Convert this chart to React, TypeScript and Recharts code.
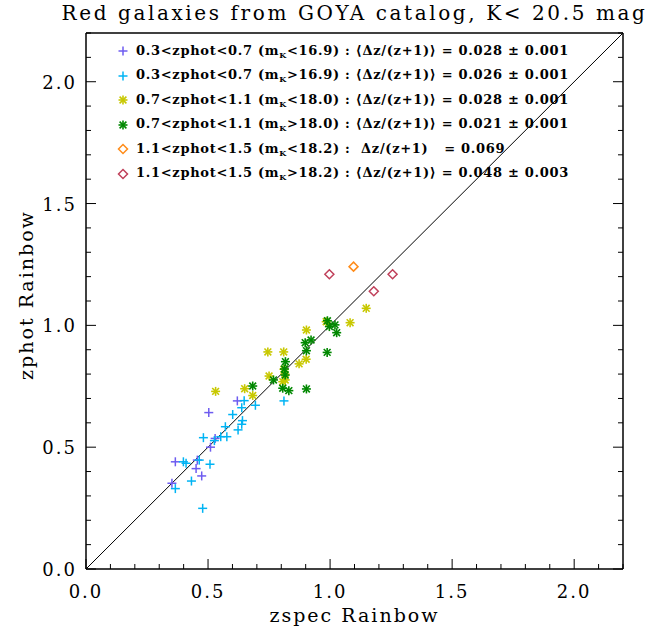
import {
  ScatterChart,
  Scatter,
  XAxis,
  YAxis,
  ReferenceLine,
  Legend,
} from "recharts";

// tick values (0.1 steps, labels only on the 0.5 ones)
const ticks = [0, 0.1, 0.2, 0.3, 0.4, 0.5, 0.6, 0.7, 0.8, 0.9, 1, 1.1, 1.2, 1.3, 1.4, 1.5, 1.6, 1.7, 1.8, 1.9, 2, 2.1, 2.2];
const majorTicks = [0, 0.5, 1, 1.5, 2];

// 0.3<zphot<0.7, mK<16.9
const brightLowX = [0.620, 0.503, 0.529, 0.510, 0.366, 0.451, 0.456, 0.474, 0.352];
const brightLowY = [0.690, 0.642, 0.536, 0.500, 0.440, 0.412, 0.447, 0.382, 0.352];
// 0.3<zphot<0.7, mK>16.9
const faintLowX = [0.648, 0.638, 0.694, 0.601, 0.641, 0.638, 0.623, 0.571, 0.577, 0.552, 0.481, 0.526, 0.399, 0.410, 0.464, 0.508, 0.432, 0.366, 0.478, 0.811];
const faintLowY = [0.691, 0.662, 0.672, 0.634, 0.609, 0.594, 0.571, 0.584, 0.543, 0.543, 0.539, 0.527, 0.440, 0.434, 0.447, 0.430, 0.361, 0.330, 0.249, 0.690];
// 0.7<zphot<1.1, mK<18.0
const brightMidX = [0.531, 0.650, 0.683, 0.750, 0.806, 0.811, 0.816, 0.815, 0.745, 0.810, 0.873, 0.902, 0.903, 0.984, 1.082, 1.148];
const brightMidY = [0.729, 0.740, 0.712, 0.792, 0.769, 0.820, 0.776, 0.800, 0.891, 0.891, 0.842, 0.861, 0.981, 1.015, 1.011, 1.070];
// 0.7<zphot<1.1, mK>18.0
const faintMidX = [0.989, 1.020, 1.027, 0.997, 0.922, 0.898, 0.903, 0.988, 0.817, 0.813, 0.816, 0.768, 0.683, 0.806, 0.831, 0.903];
const faintMidY = [1.019, 1.002, 0.970, 0.995, 0.940, 0.929, 0.896, 0.889, 0.851, 0.821, 0.796, 0.776, 0.751, 0.742, 0.732, 0.739];
// 1.1<zphot<1.5
const brightHighX = [1.096];
const brightHighY = [1.241];
const faintHighX = [0.997, 1.256, 1.179];
const faintHighY = [1.210, 1.210, 1.140];

const toPts = (xs: number[], ys: number[]) => xs.map((x, i) => ({ x, y: ys[i] }));

const PURPLE = "#6e5cf0";
const CYAN = "#00b4f4";
const YELLOW = "#c8c800";
const GREEN = "#008800";
const ORANGE = "#ff8c1a";
const RED = "#c0405a";

const SERIF = "'DejaVu Serif', serif";

const Plus = ({ cx, cy, color }: any) => (
  <g stroke={color} strokeWidth={1.5}>
    <line x1={cx - 4.5} y1={cy} x2={cx + 4.5} y2={cy} />
    <line x1={cx} y1={cy - 4.5} x2={cx} y2={cy + 4.5} />
  </g>
);

const Star = ({ cx, cy, color }: any) => (
  <g stroke={color} strokeWidth={1.6}>
    <line x1={cx - 4.5} y1={cy} x2={cx + 4.5} y2={cy} />
    <line x1={cx} y1={cy - 4.5} x2={cx} y2={cy + 4.5} />
    <line x1={cx - 3.4} y1={cy - 3.4} x2={cx + 3.4} y2={cy + 3.4} />
    <line x1={cx - 3.4} y1={cy + 3.4} x2={cx + 3.4} y2={cy - 3.4} />
  </g>
);

const Diamond = ({ cx, cy, color }: any) => (
  <path
    d={`M${cx} ${cy - 4.5}L${cx + 4.5} ${cy}L${cx} ${cy + 4.5}L${cx - 4.5} ${cy}Z`}
    stroke={color}
    strokeWidth={1.5}
    fill="none"
  />
);

const isMajor = (v: number) => majorTicks.some((m) => Math.abs(m - v) < 1e-6);

const BottomTick = (p: any) => {
  const major = isMajor(p.payload.value);
  return (
    <g>
      <line x1={p.x} y1={p.y} x2={p.x} y2={p.y - (major ? 10 : 5)} stroke="#000" />
      {major && (
        <text x={p.x} y={p.y + 29} textAnchor="middle" fontFamily={SERIF} fontSize={18} letterSpacing={2} fill="#000">
          {p.payload.value.toFixed(1)}
        </text>
      )}
    </g>
  );
};

const TopTick = (p: any) => {
  const major = isMajor(p.payload.value);
  return <line x1={p.x} y1={p.y} x2={p.x} y2={p.y + (major ? 10 : 5)} stroke="#000" />;
};

const LeftTick = (p: any) => {
  const major = isMajor(p.payload.value);
  return (
    <g>
      <line x1={p.x} y1={p.y} x2={p.x + (major ? 10 : 5)} y2={p.y} stroke="#000" />
      {major && (
        <text x={p.x - 9} y={p.y + 7} textAnchor="end" fontFamily={SERIF} fontSize={18} letterSpacing={2} fill="#000">
          {p.payload.value.toFixed(1)}
        </text>
      )}
    </g>
  );
};

const RightTick = (p: any) => {
  const major = isMajor(p.payload.value);
  return <line x1={p.x} y1={p.y} x2={p.x - (major ? 10 : 5)} y2={p.y} stroke="#000" />;
};

const legendRows = [
  { sym: Plus, color: PURPLE, range: "0.3<zphot<0.7", mag: "<16.9", stat: " : ⟨Δz/(z+1)⟩ = 0.028 ± 0.001" },
  { sym: Plus, color: CYAN, range: "0.3<zphot<0.7", mag: ">16.9", stat: " : ⟨Δz/(z+1)⟩ = 0.026 ± 0.001" },
  { sym: Star, color: YELLOW, range: "0.7<zphot<1.1", mag: "<18.0", stat: " : ⟨Δz/(z+1)⟩ = 0.028 ± 0.001" },
  { sym: Star, color: GREEN, range: "0.7<zphot<1.1", mag: ">18.0", stat: " : ⟨Δz/(z+1)⟩ = 0.021 ± 0.001" },
  { sym: Diamond, color: ORANGE, range: "1.1<zphot<1.5", mag: "<18.2", stat: " :  Δz/(z+1)   = 0.069" },
  { sym: Diamond, color: RED, range: "1.1<zphot<1.5", mag: ">18.2", stat: " : ⟨Δz/(z+1)⟩ = 0.048 ± 0.003" },
];

const LegendBox = () => (
  <div style={{ fontFamily: SERIF, fontWeight: "bold", fontSize: 13, letterSpacing: 0.7 }}>
    {legendRows.map((r, i) => {
      const S = r.sym;
      return (
        <div key={i} style={{ height: 24.5, display: "flex", alignItems: "center", whiteSpace: "pre" }}>
          <svg width={14} height={14} style={{ marginRight: 6 }}>
            <S cx={7} cy={7} color={r.color} />
          </svg>
          <span>
            {r.range} (m<span style={{ fontSize: 8, verticalAlign: -3 }}>K</span>
            {r.mag}){r.stat}
          </span>
        </div>
      );
    })}
  </div>
);

export default function App() {
  return (
    <div style={{ position: "absolute", left: 0, top: 0, width: 649, height: 631, background: "#fff" }}>
      <div
        style={{
          position: "absolute", left: 0, width: 709, top: 1, textAlign: "center",
          fontFamily: SERIF, fontSize: 20, letterSpacing: 2.6, whiteSpace: "pre",
        }}
      >
        Red galaxies from GOYA catalog, K&lt; 20.5 mag
      </div>
      <div
        style={{
          position: "absolute", left: 0, width: 709, top: 604, textAlign: "center",
          fontFamily: SERIF, fontSize: 19, letterSpacing: 2, whiteSpace: "pre",
        }}
      >
        zspec Rainbow
      </div>
      <div
        style={{
          position: "absolute", left: 26, top: 296, width: 0, height: 0,
        }}
      >
        <div
          style={{
            position: "absolute", left: -100, top: -12, width: 200, textAlign: "center",
            transform: "rotate(-90deg)", fontFamily: SERIF, fontSize: 19, letterSpacing: 2, whiteSpace: "pre",
          }}
        >
          zphot Rainbow
        </div>
      </div>
      <ScatterChart width={649} height={631} margin={{ top: 32, right: 25, bottom: 61, left: 85 }}>
        <XAxis
          type="number"
          dataKey="x"
          domain={[0, 2.2]}
          ticks={ticks}
          interval={0}
          height={1}
          tickSize={0}
          tickMargin={0}
          tickLine={false}
          tick={<BottomTick />}
          axisLine={{ stroke: "#000", strokeWidth: 1.5 }}
          allowDataOverflow
        />
        <XAxis
          xAxisId="top"
          orientation="top"
          type="number"
          domain={[0, 2.2]}
          ticks={ticks}
          interval={0}
          height={1}
          tickSize={0}
          tickMargin={0}
          tickLine={false}
          tick={<TopTick />}
          axisLine={{ stroke: "#000", strokeWidth: 1.5 }}
          allowDataOverflow
        />
        <YAxis
          type="number"
          dataKey="y"
          domain={[0, 2.2]}
          ticks={ticks}
          interval={0}
          width={1}
          tickSize={0}
          tickMargin={0}
          tickLine={false}
          tick={<LeftTick />}
          axisLine={{ stroke: "#000", strokeWidth: 1.5 }}
          allowDataOverflow
        />
        <YAxis
          yAxisId="right"
          orientation="right"
          type="number"
          domain={[0, 2.2]}
          ticks={ticks}
          interval={0}
          width={1}
          tickSize={0}
          tickMargin={0}
          tickLine={false}
          tick={<RightTick />}
          axisLine={{ stroke: "#000", strokeWidth: 1.5 }}
          allowDataOverflow
        />
        <ReferenceLine
          segment={[{ x: 0, y: 0 }, { x: 2.2, y: 2.2 }]}
          stroke="#000"
          strokeWidth={1}
          ifOverflow="visible"
        />
        <Scatter data={toPts(brightLowX, brightLowY)} isAnimationActive={false} shape={(p: any) => <Plus cx={p.cx} cy={p.cy} color={PURPLE} />} />
        <Scatter data={toPts(faintLowX, faintLowY)} isAnimationActive={false} shape={(p: any) => <Plus cx={p.cx} cy={p.cy} color={CYAN} />} />
        <Scatter data={toPts(brightMidX, brightMidY)} isAnimationActive={false} shape={(p: any) => <Star cx={p.cx} cy={p.cy} color={YELLOW} />} />
        <Scatter data={toPts(faintMidX, faintMidY)} isAnimationActive={false} shape={(p: any) => <Star cx={p.cx} cy={p.cy} color={GREEN} />} />
        <Scatter data={toPts(brightHighX, brightHighY)} isAnimationActive={false} shape={(p: any) => <Diamond cx={p.cx} cy={p.cy} color={ORANGE} />} />
        <Scatter data={toPts(faintHighX, faintHighY)} isAnimationActive={false} shape={(p: any) => <Diamond cx={p.cx} cy={p.cy} color={RED} />} />
        <Legend
          layout="horizontal"
          verticalAlign="middle"
          align="center"
          content={<LegendBox />}
          wrapperStyle={{ position: "absolute", left: 116, top: 39, width: 520 }}
        />
      </ScatterChart>
    </div>
  );
}
